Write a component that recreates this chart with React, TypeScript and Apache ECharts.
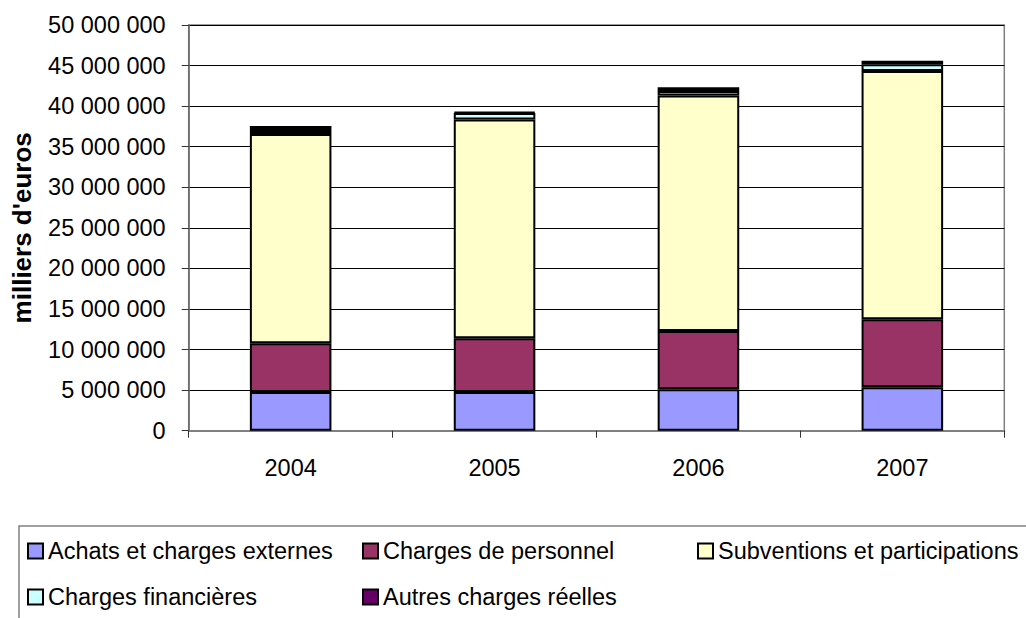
import React, { useEffect, useRef } from "react";
import * as echarts from "echarts";

const years = ["2004", "2005", "2006", "2007"];
const achats = [4770000, 4770000, 5100000, 5350000];
const personnel = [6000000, 6620000, 7190000, 8380000];
const subventions = [25800000, 26960000, 29020000, 30600000];
const financieres = [500000, 800000, 550000, 820000];
const autres = [480000, 130000, 460000, 450000];

const seriesNames = [
  "Achats et charges externes",
  "Charges de personnel",
  "Subventions et participations",
  "Charges financières",
  "Autres charges réelles",
];
const seriesData = [achats, personnel, subventions, financieres, autres];
const colors = ["#9999FF", "#993366", "#FFFFCC", "#CCFFFF", "#660066"];

const FONT = "'Liberation Sans', Arial, sans-serif";

const fmt = (v: number) => String(v).replace(/\B(?=(\d{3})+(?!\d))/g, " ");

export default function App() {
  const ref = useRef<HTMLDivElement>(null);
  useEffect(() => {
    if (!ref.current) return;
    const chart = echarts.init(ref.current, null, { renderer: "svg" });
    const legendPos = [
      { left: 27, top: 539 },
      { left: 362, top: 539 },
      { left: 697, top: 539 },
      { left: 27, top: 585 },
      { left: 362, top: 585 },
    ];
    chart.setOption({
      animation: false,
      backgroundColor: "#ffffff",
      textStyle: { fontFamily: FONT },
      grid: {
        left: 188.7,
        right: 21.7,
        top: 25,
        bottom: 187.3,
        show: true,
        borderColor: "#808080",
        borderWidth: 1.5,
        containLabel: false,
      },
      legend: seriesNames.map((n, i) => ({
        data: [n],
        left: legendPos[i].left,
        top: legendPos[i].top,
        padding: 0,
        itemWidth: 15,
        itemHeight: 15,
        itemGap: 0,
        icon: "rect",
        selectedMode: false,
        textStyle: { fontFamily: FONT, fontSize: 23.5, color: "#000" },
      })),
      xAxis: {
        type: "category",
        data: years,
        axisLine: { show: true, lineStyle: { color: "#808080", width: 2 } },
        axisTick: { show: true, alignWithLabel: false, length: 7, lineStyle: { color: "#333", width: 1 } },
        axisLabel: { fontFamily: FONT, fontSize: 23.5, color: "#000", margin: 25 },
      },
      yAxis: {
        type: "value",
        min: 0,
        max: 50000000,
        interval: 5000000,
        name: "milliers d'euros",
        nameLocation: "middle",
        nameGap: 154,
        nameTextStyle: { fontFamily: FONT, fontSize: 26, fontWeight: "bold", color: "#000" },
        axisLine: { show: true, lineStyle: { color: "#666", width: 1.5 } },
        axisTick: { show: true, length: 7, lineStyle: { color: "#333", width: 1 } },
        axisLabel: { fontFamily: FONT, fontSize: 23.5, color: "#000", margin: 23, formatter: fmt },
        splitLine: { show: true, lineStyle: { color: "#000", width: 1 } },
      },
      graphic: [
        {
          type: "rect",
          shape: { x: 19, y: 526, width: 1100, height: 200 },
          style: { fill: "none", stroke: "#808080", lineWidth: 1.5 },
          z: -1,
        },
      ],
      series: seriesNames.map((n, i) => ({
        name: n,
        type: "bar",
        stack: "total",
        barWidth: "40%",
        data: seriesData[i],
        itemStyle: { color: colors[i], borderColor: "#000", borderWidth: 2 },
      })),
    });
    return () => chart.dispose();
  }, []);
  return (
    <div
      ref={ref}
      style={{ position: "fixed", left: 0, top: 0, width: 1026, height: 618, background: "#fff" }}
    />
  );
}
